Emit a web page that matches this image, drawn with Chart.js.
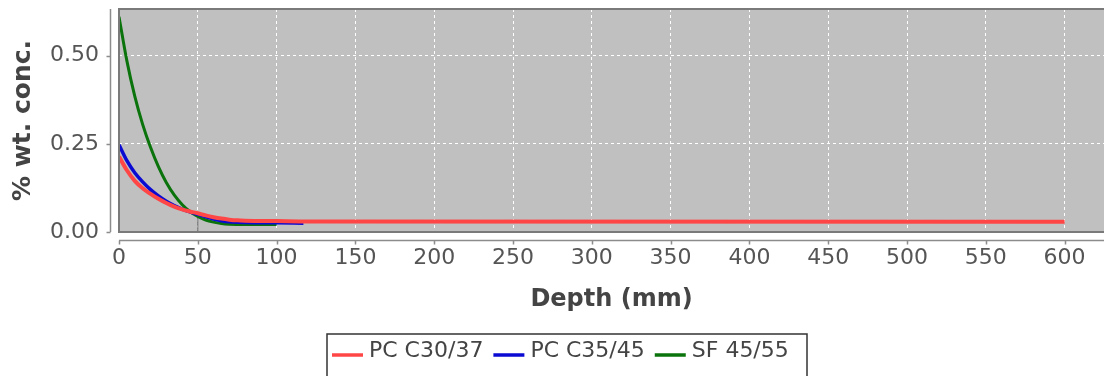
<!DOCTYPE html>
<html>
<head>
<meta charset="utf-8">
<script src="https://cdn.jsdelivr.net/npm/chart.js@4.4.1/dist/chart.umd.min.js"></script>
<style>
  html, body { margin: 0; padding: 0; background: #fff; }
  #wrap { width: 1104px; height: 376px; position: relative; }
</style>
</head>
<body>
<div id="wrap"><canvas id="chart"></canvas></div>
<script>
// series data (depth in mm, % wt. conc.)
const seriesNames = ['PC C30/37', 'PC C35/45', 'SF 45/55'];
const seriesColors = ['#ff4646', '#0a0ad2', '#0b730b'];

const depthRed = [0, 5, 10, 15, 20, 25, 30, 35, 40, 45, 50, 55, 60, 65, 70, 75, 80, 100, 120, 600];
const concRed = [0.214, 0.175, 0.145, 0.124, 0.108, 0.094, 0.082, 0.072, 0.064, 0.058, 0.053, 0.047, 0.042, 0.038, 0.035, 0.033, 0.032, 0.031, 0.030, 0.029];

const depthBlue = [0, 5, 10, 15, 20, 25, 30, 35, 40, 45, 50, 55, 60, 65, 70, 80, 100, 117];
const concBlue = [0.247, 0.202, 0.168, 0.142, 0.120, 0.102, 0.087, 0.075, 0.065, 0.057, 0.050, 0.043, 0.037, 0.032, 0.029, 0.027, 0.026, 0.025];

const depthGreen = [0, 5, 10, 15, 20, 25, 30, 35, 40, 45, 50, 55, 60, 65, 70, 80, 100];
const concGreen = [0.610, 0.485, 0.385, 0.305, 0.240, 0.185, 0.140, 0.105, 0.078, 0.058, 0.044, 0.034, 0.028, 0.024, 0.022, 0.021, 0.021];

// short vertical marker at 50 mm
const depthMarker = [50, 50];
const concMarker = [0, 0.05];

const xTicks = [0, 50, 100, 150, 200, 250, 300, 350, 400, 450, 500, 550, 600];
const yTicks = [0, 0.25, 0.5];

function toPoints(xs, ys) {
  return xs.map((x, i) => ({ x: x, y: ys[i] }));
}

const FONT = 'DejaVu Sans';

// grey plot background, outline, offset axes and legend box
const plotDeco = {
  id: 'plotDeco',
  beforeDraw(chart) {
    const { ctx, chartArea: a } = chart;
    ctx.save();
    ctx.fillStyle = '#c0c0c0';
    ctx.fillRect(a.left, a.top, a.right - a.left, a.bottom - a.top);
    ctx.restore();
  },
  afterDraw(chart) {
    const { ctx, chartArea: a } = chart;
    const xs = chart.scales.x, ys = chart.scales.y;
    ctx.save();
    // outline
    ctx.strokeStyle = '#7a7a7a';
    ctx.lineWidth = 2;
    ctx.strokeRect(a.left, a.top, a.right - a.left + 2, a.bottom - a.top);

    // offset axis lines + tick marks
    ctx.strokeStyle = '#8c8c8c';
    ctx.lineWidth = 1.5;
    const axY = a.bottom + 8.5;
    ctx.beginPath();
    ctx.moveTo(a.left, axY);
    ctx.lineTo(a.right, axY);
    xTicks.forEach(v => {
      const px = Math.round(xs.getPixelForValue(v)) + 0.5;
      ctx.moveTo(px, axY);
      ctx.lineTo(px, axY + 4);
    });
    const axX = a.left - 8.5;
    ctx.moveTo(axX, a.top);
    ctx.lineTo(axX, a.bottom);
    yTicks.forEach(v => {
      const py = Math.round(ys.getPixelForValue(v)) + 0.5;
      ctx.moveTo(axX, py);
      ctx.lineTo(axX - 4, py);
    });
    ctx.stroke();

    // legend
    const boxL = 327, boxT = 334, boxR = 807;
    ctx.strokeStyle = '#333';
    ctx.lineWidth = 1.5;
    ctx.strokeRect(boxL, boxT, boxR - boxL, 60);
    ctx.font = '22px "' + FONT + '"';
    ctx.textBaseline = 'alphabetic';
    ctx.textAlign = 'left';
    let x = 332;
    seriesNames.forEach((name, i) => {
      ctx.strokeStyle = seriesColors[i];
      ctx.lineWidth = 3.5;
      ctx.beginPath();
      ctx.moveTo(x, 355);
      ctx.lineTo(x + 31, 355);
      ctx.stroke();
      x += 37;
      ctx.fillStyle = '#444';
      ctx.fillText(name, x, 357);
      x += ctx.measureText(name).width + 10;
    });
    ctx.restore();
  }
};

const ctx = document.getElementById('chart').getContext('2d');
new Chart(ctx, {
  type: 'line',
  data: {
    datasets: [
      { label: seriesNames[0], data: toPoints(depthRed, concRed), borderColor: seriesColors[0], borderWidth: 4 },
      { label: seriesNames[1], data: toPoints(depthBlue, concBlue), borderColor: seriesColors[1], borderWidth: 3.5 },
      { label: seriesNames[2], data: toPoints(depthGreen, concGreen), borderColor: seriesColors[2], borderWidth: 3 },
      { label: 'marker', data: toPoints(depthMarker, concMarker), borderColor: '#666', borderWidth: 1 }
    ]
  },
  options: {
    responsive: true,
    maintainAspectRatio: false,
    animation: false,
    elements: {
      point: { radius: 0, hoverRadius: 0 },
      line: { cubicInterpolationMode: 'monotone', fill: false }
    },
    layout: { padding: { top: 9, right: 0, bottom: 0, left: 0 } },
    plugins: {
      legend: { display: false },
      tooltip: { enabled: false }
    },
    scales: {
      x: {
        type: 'linear',
        min: 0,
        max: 625,
        afterFit(scale) {
          scale.height = 144;
          scale.paddingLeft = 0;
          scale.paddingRight = 0;
        },
        border: { display: false, dash: [3, 3] },
        grid: { color: '#ffffff', lineWidth: 1, drawTicks: false },
        ticks: {
          stepSize: 50,
          includeBounds: false,
          padding: 13,
          color: '#555',
          font: { family: FONT, size: 22 },
          maxRotation: 0,
          autoSkip: false
        },
        title: {
          display: true,
          text: 'Depth (mm)',
          color: '#444',
          font: { family: FONT, size: 24, weight: 'bold' },
          padding: { top: 0, bottom: 62 }
        }
      },
      y: {
        min: 0,
        max: 0.632,
        afterFit(scale) {
          scale.width = 119;
          scale.paddingTop = 0;
          scale.paddingBottom = 0;
        },
        border: { display: false, dash: [3, 3] },
        grid: { color: '#ffffff', lineWidth: 1, drawTicks: false },
        ticks: {
          stepSize: 0.25,
          includeBounds: false,
          padding: 20,
          color: '#555',
          font: { family: FONT, size: 22 },
          callback: v => v.toFixed(2)
        },
        title: {
          display: true,
          text: '% wt. conc.',
          color: '#444',
          font: { family: FONT, size: 25, weight: 'bold' },
          padding: { top: 8, bottom: 0 }
        }
      }
    }
  },
  plugins: [plotDeco]
});
</script>
</body>
</html>
